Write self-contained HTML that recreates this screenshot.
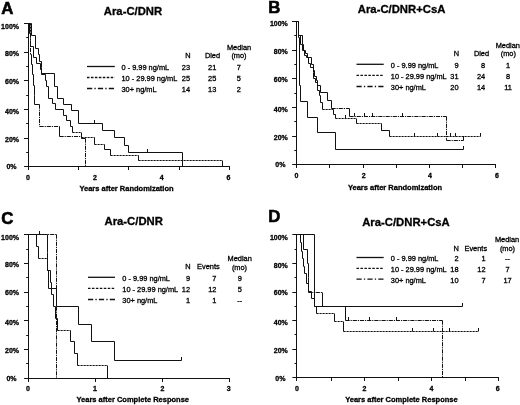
<!DOCTYPE html>
<html><head><meta charset="utf-8"><title>Figure</title>
<style>
html,body{margin:0;padding:0;background:#fff;}
body{width:520px;height:405px;overflow:hidden;font-family:"Liberation Sans", sans-serif;}
svg{display:block;filter:grayscale(1);}
svg text{font-family:"Liberation Sans", sans-serif;fill:#000;stroke:#000;stroke-width:0.3px;}
</style></head><body>
<svg width="520" height="405" viewBox="0 0 520 405">
<rect x="0" y="0" width="520" height="405" fill="#fff"/>
<line x1="28.5" y1="23" x2="28.5" y2="166.9" stroke="#111" stroke-width="1.0"/>
<line x1="24.1" y1="166.5" x2="230" y2="166.5" stroke="#111" stroke-width="1.0"/>
<line x1="24.0" y1="23.5" x2="28.5" y2="23.5" stroke="#111" stroke-width="1"/>
<line x1="26.2" y1="37.5" x2="28.5" y2="37.5" stroke="#111" stroke-width="1"/>
<line x1="24.0" y1="52.5" x2="28.5" y2="52.5" stroke="#111" stroke-width="1"/>
<line x1="26.2" y1="66.5" x2="28.5" y2="66.5" stroke="#111" stroke-width="1"/>
<line x1="24.0" y1="80.5" x2="28.5" y2="80.5" stroke="#111" stroke-width="1"/>
<line x1="26.2" y1="95.5" x2="28.5" y2="95.5" stroke="#111" stroke-width="1"/>
<line x1="24.0" y1="109.5" x2="28.5" y2="109.5" stroke="#111" stroke-width="1"/>
<line x1="26.2" y1="123.5" x2="28.5" y2="123.5" stroke="#111" stroke-width="1"/>
<line x1="24.0" y1="138.5" x2="28.5" y2="138.5" stroke="#111" stroke-width="1"/>
<line x1="26.2" y1="152.5" x2="28.5" y2="152.5" stroke="#111" stroke-width="1"/>
<line x1="28.5" y1="166.9" x2="28.5" y2="170" stroke="#111" stroke-width="1"/>
<line x1="78.5" y1="166.9" x2="78.5" y2="170" stroke="#111" stroke-width="1"/>
<line x1="128.5" y1="166.9" x2="128.5" y2="170" stroke="#111" stroke-width="1"/>
<line x1="179.5" y1="166.9" x2="179.5" y2="170" stroke="#111" stroke-width="1"/>
<line x1="229.5" y1="166.9" x2="229.5" y2="170" stroke="#111" stroke-width="1"/>
<text x="28" y="180" font-size="7" font-weight="bold" text-anchor="middle">0</text>
<text x="95" y="180" font-size="7" font-weight="bold" text-anchor="middle">2</text>
<text x="161.6" y="180" font-size="7" font-weight="bold" text-anchor="middle">4</text>
<text x="228.4" y="180" font-size="7" font-weight="bold" text-anchor="middle">6</text>
<text x="19" y="29" font-size="7" font-weight="bold" text-anchor="end">100%</text>
<text x="19" y="56" font-size="7" font-weight="bold" text-anchor="end">80%</text>
<text x="19" y="84" font-size="7" font-weight="bold" text-anchor="end">60%</text>
<text x="19" y="114" font-size="7" font-weight="bold" text-anchor="end">40%</text>
<text x="19" y="142" font-size="7" font-weight="bold" text-anchor="end">20%</text>
<text x="16.6" y="169" font-size="7" font-weight="bold" text-anchor="end">0%</text>
<text x="133" y="15" font-size="11.3" font-weight="bold" text-anchor="middle">Ara-C/DNR</text>
<text x="1.2" y="13.6" font-size="16.8" font-weight="bold" style="stroke-width:0.6px">A</text>
<text x="126.5" y="191.2" font-size="7.5" font-weight="bold" text-anchor="middle">Years after Randomization</text>
<line x1="87" y1="66.5" x2="114.8" y2="66.5" stroke="#111" stroke-width="1.3"/>
<text x="121.5" y="70" font-size="7.4">0 - 9.99 ng/mL</text>
<line x1="87" y1="77.5" x2="114.8" y2="77.5" stroke="#111" stroke-width="1.3" stroke-dasharray="2.5 1.45"/>
<text x="121.5" y="81" font-size="7.4">10 - 29.99 ng/mL</text>
<line x1="87" y1="88.5" x2="114.8" y2="88.5" stroke="#111" stroke-width="1.3" stroke-dasharray="5.2 2.2 1.3 2.2"/>
<text x="121.5" y="92" font-size="7.4">30+ ng/mL</text>
<text x="190" y="70" font-size="7.4" text-anchor="end">23</text>
<text x="190" y="81" font-size="7.4" text-anchor="end">25</text>
<text x="190" y="92" font-size="7.4" text-anchor="end">14</text>
<text x="216.3" y="70" font-size="7.4" text-anchor="end">21</text>
<text x="216.3" y="81" font-size="7.4" text-anchor="end">25</text>
<text x="216.3" y="92" font-size="7.4" text-anchor="end">13</text>
<text x="238.8" y="70" font-size="7.4" text-anchor="middle">7</text>
<text x="238.8" y="81" font-size="7.4" text-anchor="middle">5</text>
<text x="238.8" y="92" font-size="7.4" text-anchor="middle">2</text>
<text x="187.8" y="58" font-size="7.4" text-anchor="middle">N</text>
<text x="212.5" y="58" font-size="7.4" text-anchor="middle">Died</text>
<text x="239" y="49.6" font-size="7.4" text-anchor="middle">Median</text>
<text x="239" y="58" font-size="7.4" text-anchor="middle">(mo)</text>
<path d="M28.5 23.5 L31.5 23.5 L31.5 35.5 L35.5 35.5 L35.5 48.5 L38.5 48.5 L38.5 54.5 L39.5 54.5 L39.5 61.5 L41.5 61.5 L41.5 67.5 L41.5 73.5 L54.5 73.5 L54.5 86.5 L57.5 86.5 L57.5 98.5 L63.5 98.5 L63.5 104.5 L71.5 104.5 L71.5 110.5 L78.5 110.5 L78.5 123.5 L102.5 123.5 L102.5 130.5 L114.5 130.5 L114.5 137.5 L124.5 137.5 L124.5 145.5 L128.5 145.5 L128.5 152.5 L182.5 152.5 L182.5 166.5" fill="none" stroke="#111" stroke-width="1.0"/>
<line x1="94.5" y1="120" x2="94.5" y2="123.5" stroke="#111" stroke-width="1"/>
<line x1="147.5" y1="149" x2="147.5" y2="152.5" stroke="#111" stroke-width="1"/>
<path d="M28.5 23.5 L30.5 23.5" fill="none" stroke="#111" stroke-width="1.0"/>
<line x1="30.5" y1="23.5" x2="30.5" y2="46.5" stroke="#111" stroke-width="1.0" stroke-dasharray="2.2 0.8"/>
<path d="M30.5 46.5 L33.5 46.5 L33.5 57.5 L36.5 57.5 L36.5 63.5 L40.5 63.5 L40.5 69.5 L41.5 69.5 L41.5 74.5 L45.5 74.5 L45.5 80.5 L46.5 80.5 L46.5 86.5 L48.5 86.5 L48.5 98.5 L52.5 98.5 L52.5 103.5 L55.5 103.5 L55.5 109.5 L63.5 109.5 L63.5 115.5 L66.5 115.5 L66.5 120.5 L70.5 120.5 L70.5 126.5 L72.5 126.5 L72.5 132.5" fill="none" stroke="#111" stroke-width="1.0"/>
<line x1="72.5" y1="132.5" x2="81.5" y2="132.5" stroke="#111" stroke-width="1.0" stroke-dasharray="2.2 0.8"/>
<path d="M81.5 132.5 L81.5 137.5" fill="none" stroke="#111" stroke-width="1.0"/>
<line x1="81.5" y1="137.5" x2="94.5" y2="137.5" stroke="#111" stroke-width="1.0" stroke-dasharray="2.2 0.8"/>
<path d="M94.5 137.5 L94.5 144.5" fill="none" stroke="#111" stroke-width="1.0"/>
<line x1="94.5" y1="144.5" x2="104.5" y2="144.5" stroke="#111" stroke-width="1.0" stroke-dasharray="2.2 0.8"/>
<path d="M104.5 144.5 L104.5 149.5 L110.5 149.5 L110.5 155.5" fill="none" stroke="#111" stroke-width="1.0"/>
<line x1="110.5" y1="155.5" x2="138.5" y2="155.5" stroke="#111" stroke-width="1.0" stroke-dasharray="2.2 0.8"/>
<path d="M138.5 155.5 L138.5 160.5" fill="none" stroke="#111" stroke-width="1.0"/>
<line x1="138.5" y1="160.5" x2="222.5" y2="160.5" stroke="#111" stroke-width="1.0" stroke-dasharray="2.2 0.8"/>
<path d="M222.5 160.5 L222.5 166.5" fill="none" stroke="#111" stroke-width="1.0"/>
<path d="M28.5 23.5 L29.5 23.5 L29.5 33.5 L30.5 33.5" fill="none" stroke="#111" stroke-width="1.0"/>
<line x1="30.5" y1="33.5" x2="30.5" y2="54.5" stroke="#111" stroke-width="1.0" stroke-dasharray="4.2 0.9 1.2 0.9"/>
<path d="M30.5 54.5 L31.5 54.5 L31.5 64.5 L32.5 64.5 L32.5 74.5 L33.5 74.5 L33.5 85.5 L34.5 85.5 L34.5 95.5 L34.5 104.5 L39.5 104.5" fill="none" stroke="#111" stroke-width="1.0"/>
<line x1="39.5" y1="104.5" x2="39.5" y2="126.5" stroke="#111" stroke-width="1.0" stroke-dasharray="4.2 0.9 1.2 0.9"/>
<line x1="39.5" y1="126.5" x2="59.5" y2="126.5" stroke="#111" stroke-width="1.0" stroke-dasharray="4.2 0.9 1.2 0.9"/>
<path d="M59.5 126.5 L59.5 136.5" fill="none" stroke="#111" stroke-width="1.0"/>
<line x1="59.5" y1="136.5" x2="81.5" y2="136.5" stroke="#111" stroke-width="1.0" stroke-dasharray="4.2 0.9 1.2 0.9"/>
<path d="M81.5 136.5 L81.5 138.5 L85.5 138.5" fill="none" stroke="#111" stroke-width="1.0"/>
<line x1="85.5" y1="138.5" x2="85.5" y2="166.5" stroke="#111" stroke-width="1.0" stroke-dasharray="4.2 0.9 1.2 0.9"/>
<line x1="296.5" y1="21" x2="296.5" y2="164.6" stroke="#111" stroke-width="1.0"/>
<line x1="292.20000000000005" y1="164.5" x2="496" y2="164.5" stroke="#111" stroke-width="1.0"/>
<line x1="292.1" y1="21.5" x2="296.6" y2="21.5" stroke="#111" stroke-width="1"/>
<line x1="294.3" y1="35.5" x2="296.6" y2="35.5" stroke="#111" stroke-width="1"/>
<line x1="292.1" y1="50.5" x2="296.6" y2="50.5" stroke="#111" stroke-width="1"/>
<line x1="294.3" y1="64.5" x2="296.6" y2="64.5" stroke="#111" stroke-width="1"/>
<line x1="292.1" y1="78.5" x2="296.6" y2="78.5" stroke="#111" stroke-width="1"/>
<line x1="294.3" y1="93.5" x2="296.6" y2="93.5" stroke="#111" stroke-width="1"/>
<line x1="292.1" y1="107.5" x2="296.6" y2="107.5" stroke="#111" stroke-width="1"/>
<line x1="294.3" y1="121.5" x2="296.6" y2="121.5" stroke="#111" stroke-width="1"/>
<line x1="292.1" y1="136.5" x2="296.6" y2="136.5" stroke="#111" stroke-width="1"/>
<line x1="294.3" y1="150.5" x2="296.6" y2="150.5" stroke="#111" stroke-width="1"/>
<line x1="296.5" y1="164.6" x2="296.5" y2="168" stroke="#111" stroke-width="1"/>
<line x1="329.5" y1="164.6" x2="329.5" y2="168" stroke="#111" stroke-width="1"/>
<line x1="363.5" y1="164.6" x2="363.5" y2="168" stroke="#111" stroke-width="1"/>
<line x1="396.5" y1="164.6" x2="396.5" y2="168" stroke="#111" stroke-width="1"/>
<line x1="429.5" y1="164.6" x2="429.5" y2="168" stroke="#111" stroke-width="1"/>
<line x1="462.5" y1="164.6" x2="462.5" y2="168" stroke="#111" stroke-width="1"/>
<line x1="495.5" y1="164.6" x2="495.5" y2="168" stroke="#111" stroke-width="1"/>
<text x="296.5" y="178" font-size="7" font-weight="bold" text-anchor="middle">0</text>
<text x="363.75" y="178" font-size="7" font-weight="bold" text-anchor="middle">2</text>
<text x="430" y="178" font-size="7" font-weight="bold" text-anchor="middle">4</text>
<text x="497" y="178" font-size="7" font-weight="bold" text-anchor="middle">6</text>
<text x="287.8" y="26" font-size="7" font-weight="bold" text-anchor="end">100%</text>
<text x="287.8" y="54" font-size="7" font-weight="bold" text-anchor="end">80%</text>
<text x="287.8" y="82" font-size="7" font-weight="bold" text-anchor="end">60%</text>
<text x="287.8" y="112" font-size="7" font-weight="bold" text-anchor="end">40%</text>
<text x="287.8" y="140" font-size="7" font-weight="bold" text-anchor="end">20%</text>
<text x="285.40000000000003" y="167" font-size="7" font-weight="bold" text-anchor="end">0%</text>
<text x="401.6" y="13" font-size="11.3" font-weight="bold" text-anchor="middle">Ara-C/DNR+CsA</text>
<text x="268.2" y="12.8" font-size="16.8" font-weight="bold" style="stroke-width:0.6px">B</text>
<text x="395" y="189.5" font-size="7.5" font-weight="bold" text-anchor="middle">Years after Randomization</text>
<line x1="356.5" y1="64.3" x2="383.7" y2="64.3" stroke="#111" stroke-width="1.3"/>
<text x="390.8" y="67.8" font-size="7.4">0 - 9.99 ng/mL</text>
<line x1="356.5" y1="75.3" x2="383.7" y2="75.3" stroke="#111" stroke-width="1.3" stroke-dasharray="2.5 1.45"/>
<text x="390.8" y="78.8" font-size="7.4">10 - 29.99 ng/mL</text>
<line x1="356.5" y1="86.5" x2="383.7" y2="86.5" stroke="#111" stroke-width="1.3" stroke-dasharray="5.2 2.2 1.3 2.2"/>
<text x="390.8" y="90" font-size="7.4">30+ ng/mL</text>
<text x="458.5" y="67.8" font-size="7.4" text-anchor="end">9</text>
<text x="458.5" y="78.8" font-size="7.4" text-anchor="end">31</text>
<text x="458.5" y="90" font-size="7.4" text-anchor="end">20</text>
<text x="485.2" y="67.8" font-size="7.4" text-anchor="end">8</text>
<text x="485.2" y="78.8" font-size="7.4" text-anchor="end">24</text>
<text x="485.2" y="90" font-size="7.4" text-anchor="end">14</text>
<text x="508" y="67.8" font-size="7.4" text-anchor="middle">1</text>
<text x="508" y="78.8" font-size="7.4" text-anchor="middle">8</text>
<text x="508" y="90" font-size="7.4" text-anchor="middle">11</text>
<text x="456.5" y="56.2" font-size="7.4" text-anchor="middle">N</text>
<text x="481.5" y="56.2" font-size="7.4" text-anchor="middle">Died</text>
<text x="507.8" y="48" font-size="7.4" text-anchor="middle">Median</text>
<text x="508.3" y="56.2" font-size="7.4" text-anchor="middle">(mo)</text>
<path d="M296.5 21.5 L298.5 21.5 L298.5 37.5 L299.5 37.5 L299.5 85.5 L300.5 85.5 L300.5 101.5 L307.5 101.5 L307.5 117.5 L317.5 117.5 L317.5 132.5 L335.5 132.5 L335.5 149.5 L463.5 149.5" fill="none" stroke="#111" stroke-width="1.0"/>
<line x1="463.5" y1="146" x2="463.5" y2="149.5" stroke="#111" stroke-width="1"/>
<path d="M296.5 21.5 L298.5 21.5 L298.5 35.5 L302.5 35.5 L302.5 44.5 L303.5 44.5 L303.5 50.5 L305.5 50.5 L305.5 53.5 L307.5 53.5 L307.5 57.5 L311.5 57.5 L311.5 64.5 L313.5 64.5 L313.5 70.5 L314.5 70.5 L314.5 76.5 L316.5 76.5 L316.5 80.5 L317.5 80.5 L317.5 85.5 L320.5 85.5 L320.5 92.5 L327.5 92.5 L327.5 100.5 L331.5 100.5 L331.5 108.5" fill="none" stroke="#111" stroke-width="1.0"/>
<line x1="331.5" y1="108.5" x2="349.5" y2="108.5" stroke="#111" stroke-width="1.0" stroke-dasharray="4.2 0.9 1.2 0.9"/>
<path d="M349.5 108.5 L349.5 116.5" fill="none" stroke="#111" stroke-width="1.0"/>
<line x1="349.5" y1="116.5" x2="446.5" y2="116.5" stroke="#111" stroke-width="1.0" stroke-dasharray="4.2 0.9 1.2 0.9"/>
<line x1="446.5" y1="116.5" x2="446.5" y2="140.5" stroke="#111" stroke-width="1.0" stroke-dasharray="4.2 0.9 1.2 0.9"/>
<line x1="446.5" y1="140.5" x2="463.5" y2="140.5" stroke="#111" stroke-width="1.0" stroke-dasharray="4.2 0.9 1.2 0.9"/>
<line x1="463.5" y1="136" x2="463.5" y2="140.5" stroke="#111" stroke-width="1"/>
<line x1="354.5" y1="113" x2="354.5" y2="116.5" stroke="#111" stroke-width="1"/>
<line x1="364.5" y1="113" x2="364.5" y2="116.5" stroke="#111" stroke-width="1"/>
<line x1="372.5" y1="113" x2="372.5" y2="116.5" stroke="#111" stroke-width="1"/>
<line x1="402.5" y1="113" x2="402.5" y2="116.5" stroke="#111" stroke-width="1"/>
<path d="M298.5 35.5 L300.5 35.5 L300.5 44.5 L302.5 44.5 L302.5 50.5 L304.5 50.5 L304.5 55.5 L306.5 55.5 L306.5 57.5 L308.5 57.5 L308.5 63.5 L310.5 63.5 L310.5 67.5 L313.5 67.5 L313.5 72.5 L313.5 78.5 L315.5 78.5 L315.5 82.5 L317.5 82.5 L317.5 90.5 L319.5 90.5 L319.5 95.5 L320.5 95.5 L320.5 102.5 L322.5 102.5 L322.5 109.5" fill="none" stroke="#111" stroke-width="1.0"/>
<line x1="322.5" y1="109.5" x2="333.5" y2="109.5" stroke="#111" stroke-width="1.0" stroke-dasharray="2.2 0.8"/>
<path d="M333.5 109.5 L333.5 114.5 L335.5 114.5 L335.5 118.5" fill="none" stroke="#111" stroke-width="1.0"/>
<line x1="335.5" y1="118.5" x2="356.5" y2="118.5" stroke="#111" stroke-width="1.0" stroke-dasharray="2.2 0.8"/>
<path d="M356.5 118.5 L356.5 123.5" fill="none" stroke="#111" stroke-width="1.0"/>
<line x1="356.5" y1="123.5" x2="381.5" y2="123.5" stroke="#111" stroke-width="1.0" stroke-dasharray="2.2 0.8"/>
<path d="M381.5 123.5 L381.5 130.5 L389.5 130.5 L389.5 136.5" fill="none" stroke="#111" stroke-width="1.0"/>
<line x1="389.5" y1="136.5" x2="480.5" y2="136.5" stroke="#111" stroke-width="1.0" stroke-dasharray="2.2 0.8"/>
<line x1="480.5" y1="133" x2="480.5" y2="136.5" stroke="#111" stroke-width="1"/>
<line x1="414.5" y1="133" x2="414.5" y2="136.5" stroke="#111" stroke-width="1"/>
<line x1="437.5" y1="133" x2="437.5" y2="136.5" stroke="#111" stroke-width="1"/>
<line x1="450.5" y1="133" x2="450.5" y2="136.5" stroke="#111" stroke-width="1"/>
<line x1="455.5" y1="133" x2="455.5" y2="136.5" stroke="#111" stroke-width="1"/>
<line x1="345.5" y1="115" x2="345.5" y2="118.5" stroke="#111" stroke-width="1"/>
<line x1="381.5" y1="127" x2="381.5" y2="130.5" stroke="#111" stroke-width="1"/>
<line x1="28.5" y1="234" x2="28.5" y2="378.1" stroke="#111" stroke-width="1.0"/>
<line x1="24.1" y1="378.5" x2="230" y2="378.5" stroke="#111" stroke-width="1.0"/>
<line x1="24.0" y1="234.5" x2="28.5" y2="234.5" stroke="#111" stroke-width="1"/>
<line x1="26.2" y1="249.5" x2="28.5" y2="249.5" stroke="#111" stroke-width="1"/>
<line x1="24.0" y1="263.5" x2="28.5" y2="263.5" stroke="#111" stroke-width="1"/>
<line x1="26.2" y1="277.5" x2="28.5" y2="277.5" stroke="#111" stroke-width="1"/>
<line x1="24.0" y1="292.5" x2="28.5" y2="292.5" stroke="#111" stroke-width="1"/>
<line x1="26.2" y1="306.5" x2="28.5" y2="306.5" stroke="#111" stroke-width="1"/>
<line x1="24.0" y1="320.5" x2="28.5" y2="320.5" stroke="#111" stroke-width="1"/>
<line x1="26.2" y1="335.5" x2="28.5" y2="335.5" stroke="#111" stroke-width="1"/>
<line x1="24.0" y1="349.5" x2="28.5" y2="349.5" stroke="#111" stroke-width="1"/>
<line x1="26.2" y1="363.5" x2="28.5" y2="363.5" stroke="#111" stroke-width="1"/>
<line x1="28.5" y1="378.1" x2="28.5" y2="382" stroke="#111" stroke-width="1"/>
<line x1="95.5" y1="378.1" x2="95.5" y2="382" stroke="#111" stroke-width="1"/>
<line x1="162.5" y1="378.1" x2="162.5" y2="382" stroke="#111" stroke-width="1"/>
<line x1="229.5" y1="378.1" x2="229.5" y2="382" stroke="#111" stroke-width="1"/>
<text x="28" y="391" font-size="7" font-weight="bold" text-anchor="middle">0</text>
<text x="95" y="391" font-size="7" font-weight="bold" text-anchor="middle">1</text>
<text x="162.5" y="391" font-size="7" font-weight="bold" text-anchor="middle">2</text>
<text x="228.8" y="391" font-size="7" font-weight="bold" text-anchor="middle">3</text>
<text x="19" y="240" font-size="7" font-weight="bold" text-anchor="end">100%</text>
<text x="19" y="267" font-size="7" font-weight="bold" text-anchor="end">80%</text>
<text x="19" y="295" font-size="7" font-weight="bold" text-anchor="end">60%</text>
<text x="19" y="325" font-size="7" font-weight="bold" text-anchor="end">40%</text>
<text x="19" y="353" font-size="7" font-weight="bold" text-anchor="end">20%</text>
<text x="16.6" y="381" font-size="7" font-weight="bold" text-anchor="end">0%</text>
<text x="133.7" y="225" font-size="11.3" font-weight="bold" text-anchor="middle">Ara-C/DNR</text>
<text x="1.2" y="223.8" font-size="16.8" font-weight="bold" style="stroke-width:0.6px">C</text>
<text x="132.75" y="401.5" font-size="7.5" font-weight="bold" text-anchor="middle">Years after Complete Response</text>
<line x1="88" y1="277.3" x2="115" y2="277.3" stroke="#111" stroke-width="1.3"/>
<text x="122.3" y="280.8" font-size="7.4">0 - 9.99 ng/mL</text>
<line x1="88" y1="288.3" x2="115" y2="288.3" stroke="#111" stroke-width="1.3" stroke-dasharray="2.5 1.45"/>
<text x="122.3" y="291.8" font-size="7.4">10 - 29.99 ng/mL</text>
<line x1="88" y1="299.5" x2="115" y2="299.5" stroke="#111" stroke-width="1.3" stroke-dasharray="5.2 2.2 1.3 2.2"/>
<text x="122.3" y="303" font-size="7.4">30+ ng/mL</text>
<text x="190" y="280.8" font-size="7.4" text-anchor="end">9</text>
<text x="190" y="291.8" font-size="7.4" text-anchor="end">12</text>
<text x="190" y="303" font-size="7.4" text-anchor="end">1</text>
<text x="216.4" y="280.8" font-size="7.4" text-anchor="end">7</text>
<text x="216.4" y="291.8" font-size="7.4" text-anchor="end">12</text>
<text x="216.4" y="303" font-size="7.4" text-anchor="end">1</text>
<text x="239.7" y="280.8" font-size="7.4" text-anchor="middle">9</text>
<text x="239.7" y="291.8" font-size="7.4" text-anchor="middle">5</text>
<text x="239.7" y="303" font-size="7.4" text-anchor="middle">--</text>
<text x="188" y="269.2" font-size="7.4" text-anchor="middle">N</text>
<text x="208.4" y="269.2" font-size="7.4" text-anchor="middle">Events</text>
<text x="239.7" y="261" font-size="7.4" text-anchor="middle">Median</text>
<text x="239.5" y="269.5" font-size="7.4" text-anchor="middle">(mo)</text>
<path d="M28.5 234.5 L47.5 234.5 L47.5 252.5 L47.5 270.5 L48.5 270.5 L48.5 288.5 L56.5 288.5 L56.5 306.5 L78.5 306.5 L78.5 324.5 L91.5 324.5 L91.5 341.5 L114.5 341.5 L114.5 360.5 L181.5 360.5" fill="none" stroke="#111" stroke-width="1.0"/>
<line x1="181.5" y1="357" x2="181.5" y2="360.5" stroke="#111" stroke-width="1"/>
<line x1="39.5" y1="231" x2="39.5" y2="234.5" stroke="#111" stroke-width="1"/>
<path d="M28.5 234.5 L36.5 234.5 L36.5 246.5 L38.5 246.5 L38.5 258.5" fill="none" stroke="#111" stroke-width="1.0"/>
<line x1="38.5" y1="258.5" x2="47.5" y2="258.5" stroke="#111" stroke-width="1.0" stroke-dasharray="2.2 0.8"/>
<path d="M47.5 258.5 L47.5 270.5 L50.5 270.5 L50.5 282.5 L51.5 282.5 L51.5 294.5 L53.5 294.5 L53.5 306.5 L55.5 306.5 L55.5 318.5 L57.5 318.5 L57.5 330.5" fill="none" stroke="#111" stroke-width="1.0"/>
<line x1="57.5" y1="330.5" x2="70.5" y2="330.5" stroke="#111" stroke-width="1.0" stroke-dasharray="2.2 0.8"/>
<path d="M70.5 330.5 L70.5 341.5 L74.5 341.5 L74.5 353.5 L77.5 353.5 L77.5 365.5" fill="none" stroke="#111" stroke-width="1.0"/>
<line x1="77.5" y1="365.5" x2="107.5" y2="365.5" stroke="#111" stroke-width="1.0" stroke-dasharray="2.2 0.8"/>
<path d="M107.5 365.5 L107.5 378.5" fill="none" stroke="#111" stroke-width="1.0"/>
<line x1="28.5" y1="234.5" x2="56.5" y2="234.5" stroke="#111" stroke-width="1.0" stroke-dasharray="4.2 0.9 1.2 0.9"/>
<line x1="56.5" y1="234.5" x2="56.5" y2="378.5" stroke="#111" stroke-width="1.0" stroke-dasharray="4.2 0.9 1.2 0.9"/>
<line x1="296.5" y1="234" x2="296.5" y2="377.8" stroke="#111" stroke-width="1.0"/>
<line x1="292.40000000000003" y1="377.5" x2="499" y2="377.5" stroke="#111" stroke-width="1.0"/>
<line x1="292.3" y1="234.5" x2="296.8" y2="234.5" stroke="#111" stroke-width="1"/>
<line x1="294.5" y1="249.5" x2="296.8" y2="249.5" stroke="#111" stroke-width="1"/>
<line x1="292.3" y1="263.5" x2="296.8" y2="263.5" stroke="#111" stroke-width="1"/>
<line x1="294.5" y1="277.5" x2="296.8" y2="277.5" stroke="#111" stroke-width="1"/>
<line x1="292.3" y1="292.5" x2="296.8" y2="292.5" stroke="#111" stroke-width="1"/>
<line x1="294.5" y1="306.5" x2="296.8" y2="306.5" stroke="#111" stroke-width="1"/>
<line x1="292.3" y1="320.5" x2="296.8" y2="320.5" stroke="#111" stroke-width="1"/>
<line x1="294.5" y1="334.5" x2="296.8" y2="334.5" stroke="#111" stroke-width="1"/>
<line x1="292.3" y1="349.5" x2="296.8" y2="349.5" stroke="#111" stroke-width="1"/>
<line x1="294.5" y1="363.5" x2="296.8" y2="363.5" stroke="#111" stroke-width="1"/>
<line x1="296.5" y1="377.8" x2="296.5" y2="381" stroke="#111" stroke-width="1"/>
<line x1="331.5" y1="377.8" x2="331.5" y2="381" stroke="#111" stroke-width="1"/>
<line x1="364.5" y1="377.8" x2="364.5" y2="381" stroke="#111" stroke-width="1"/>
<line x1="398.5" y1="377.8" x2="398.5" y2="381" stroke="#111" stroke-width="1"/>
<line x1="431.5" y1="377.8" x2="431.5" y2="381" stroke="#111" stroke-width="1"/>
<line x1="465.5" y1="377.8" x2="465.5" y2="381" stroke="#111" stroke-width="1"/>
<line x1="498.5" y1="377.8" x2="498.5" y2="381" stroke="#111" stroke-width="1"/>
<text x="297" y="391" font-size="7" font-weight="bold" text-anchor="middle">0</text>
<text x="364.4" y="391" font-size="7" font-weight="bold" text-anchor="middle">2</text>
<text x="431.4" y="391" font-size="7" font-weight="bold" text-anchor="middle">4</text>
<text x="497.8" y="391" font-size="7" font-weight="bold" text-anchor="middle">6</text>
<text x="287.8" y="240" font-size="7" font-weight="bold" text-anchor="end">100%</text>
<text x="287.8" y="268" font-size="7" font-weight="bold" text-anchor="end">80%</text>
<text x="287.8" y="295" font-size="7" font-weight="bold" text-anchor="end">60%</text>
<text x="287.8" y="325" font-size="7" font-weight="bold" text-anchor="end">40%</text>
<text x="287.8" y="353" font-size="7" font-weight="bold" text-anchor="end">20%</text>
<text x="285.40000000000003" y="381" font-size="7" font-weight="bold" text-anchor="end">0%</text>
<text x="406" y="226" font-size="11.3" font-weight="bold" text-anchor="middle">Ara-C/DNR+CsA</text>
<text x="268.2" y="222.3" font-size="16.8" font-weight="bold" style="stroke-width:0.6px">D</text>
<text x="401.4" y="402" font-size="7.5" font-weight="bold" text-anchor="middle">Years after Complete Response</text>
<line x1="356.5" y1="257.5" x2="383.7" y2="257.5" stroke="#111" stroke-width="1.3"/>
<text x="390.8" y="261" font-size="7.4">0 - 9.99 ng/mL</text>
<line x1="356.5" y1="268.3" x2="383.7" y2="268.3" stroke="#111" stroke-width="1.3" stroke-dasharray="2.5 1.45"/>
<text x="390.8" y="271.8" font-size="7.4">10 - 29.99 ng/mL</text>
<line x1="356.5" y1="279.1" x2="383.7" y2="279.1" stroke="#111" stroke-width="1.3" stroke-dasharray="5.2 2.2 1.3 2.2"/>
<text x="390.8" y="282.6" font-size="7.4">30+ ng/mL</text>
<text x="458.5" y="261" font-size="7.4" text-anchor="end">2</text>
<text x="458.5" y="271.8" font-size="7.4" text-anchor="end">18</text>
<text x="458.5" y="282.6" font-size="7.4" text-anchor="end">10</text>
<text x="485.5" y="261" font-size="7.4" text-anchor="end">1</text>
<text x="485.5" y="271.8" font-size="7.4" text-anchor="end">12</text>
<text x="485.5" y="282.6" font-size="7.4" text-anchor="end">7</text>
<text x="507.5" y="261" font-size="7.4" text-anchor="middle">--</text>
<text x="507.5" y="271.8" font-size="7.4" text-anchor="middle">7</text>
<text x="507.5" y="282.6" font-size="7.4" text-anchor="middle">17</text>
<text x="456.2" y="251" font-size="7.4" text-anchor="middle">N</text>
<text x="475.8" y="251" font-size="7.4" text-anchor="middle">Events</text>
<text x="507" y="242.3" font-size="7.4" text-anchor="middle">Median</text>
<text x="507.5" y="251" font-size="7.4" text-anchor="middle">(mo)</text>
<path d="M296.5 234.5 L314.5 234.5 L314.5 306.5 L462.5 306.5" fill="none" stroke="#111" stroke-width="1.0"/>
<line x1="462.5" y1="303" x2="462.5" y2="306.5" stroke="#111" stroke-width="1"/>
<path d="M296.5 234.5 L303.5 234.5 L303.5 249.5 L307.5 249.5 L307.5 263.5 L308.5 263.5 L308.5 277.5 L308.5 292.5" fill="none" stroke="#111" stroke-width="1.0"/>
<line x1="308.5" y1="292.5" x2="322.5" y2="292.5" stroke="#111" stroke-width="1.0" stroke-dasharray="4.2 0.9 1.2 0.9"/>
<path d="M322.5 292.5 L322.5 306.5" fill="none" stroke="#111" stroke-width="1.0"/>
<line x1="322.5" y1="306.5" x2="345.5" y2="306.5" stroke="#111" stroke-width="1.0" stroke-dasharray="4.2 0.9 1.2 0.9"/>
<path d="M345.5 306.5 L345.5 320.5" fill="none" stroke="#111" stroke-width="1.0"/>
<line x1="345.5" y1="320.5" x2="442.5" y2="320.5" stroke="#111" stroke-width="1.0" stroke-dasharray="4.2 0.9 1.2 0.9"/>
<line x1="442.5" y1="320.5" x2="442.5" y2="377.5" stroke="#111" stroke-width="1.0" stroke-dasharray="4.2 0.9 1.2 0.9"/>
<line x1="348.5" y1="317" x2="348.5" y2="320.5" stroke="#111" stroke-width="1"/>
<line x1="369.5" y1="317" x2="369.5" y2="320.5" stroke="#111" stroke-width="1"/>
<line x1="396.5" y1="317" x2="396.5" y2="320.5" stroke="#111" stroke-width="1"/>
<path d="M296.5 234.5 L300.5 234.5 L300.5 242.5 L301.5 242.5 L301.5 251.5 L302.5 251.5 L302.5 258.5 L303.5 258.5 L303.5 266.5 L304.5 266.5 L304.5 273.5 L306.5 273.5 L306.5 283.5 L308.5 283.5 L308.5 291.5 L311.5 291.5 L311.5 298.5 L314.5 298.5 L314.5 306.5 L316.5 306.5 L316.5 313.5" fill="none" stroke="#111" stroke-width="1.0"/>
<line x1="316.5" y1="313.5" x2="334.5" y2="313.5" stroke="#111" stroke-width="1.0" stroke-dasharray="2.2 0.8"/>
<path d="M334.5 313.5 L334.5 321.5" fill="none" stroke="#111" stroke-width="1.0"/>
<line x1="334.5" y1="321.5" x2="343.5" y2="321.5" stroke="#111" stroke-width="1.0" stroke-dasharray="2.2 0.8"/>
<path d="M343.5 321.5 L343.5 331.5" fill="none" stroke="#111" stroke-width="1.0"/>
<line x1="343.5" y1="331.5" x2="478.5" y2="331.5" stroke="#111" stroke-width="1.0" stroke-dasharray="2.2 0.8"/>
<line x1="478.5" y1="328" x2="478.5" y2="331.5" stroke="#111" stroke-width="1"/>
<line x1="412.5" y1="328" x2="412.5" y2="331.5" stroke="#111" stroke-width="1"/>
<line x1="433.5" y1="328" x2="433.5" y2="331.5" stroke="#111" stroke-width="1"/>
<line x1="449.5" y1="328" x2="449.5" y2="331.5" stroke="#111" stroke-width="1"/>
</svg>
</body></html>
